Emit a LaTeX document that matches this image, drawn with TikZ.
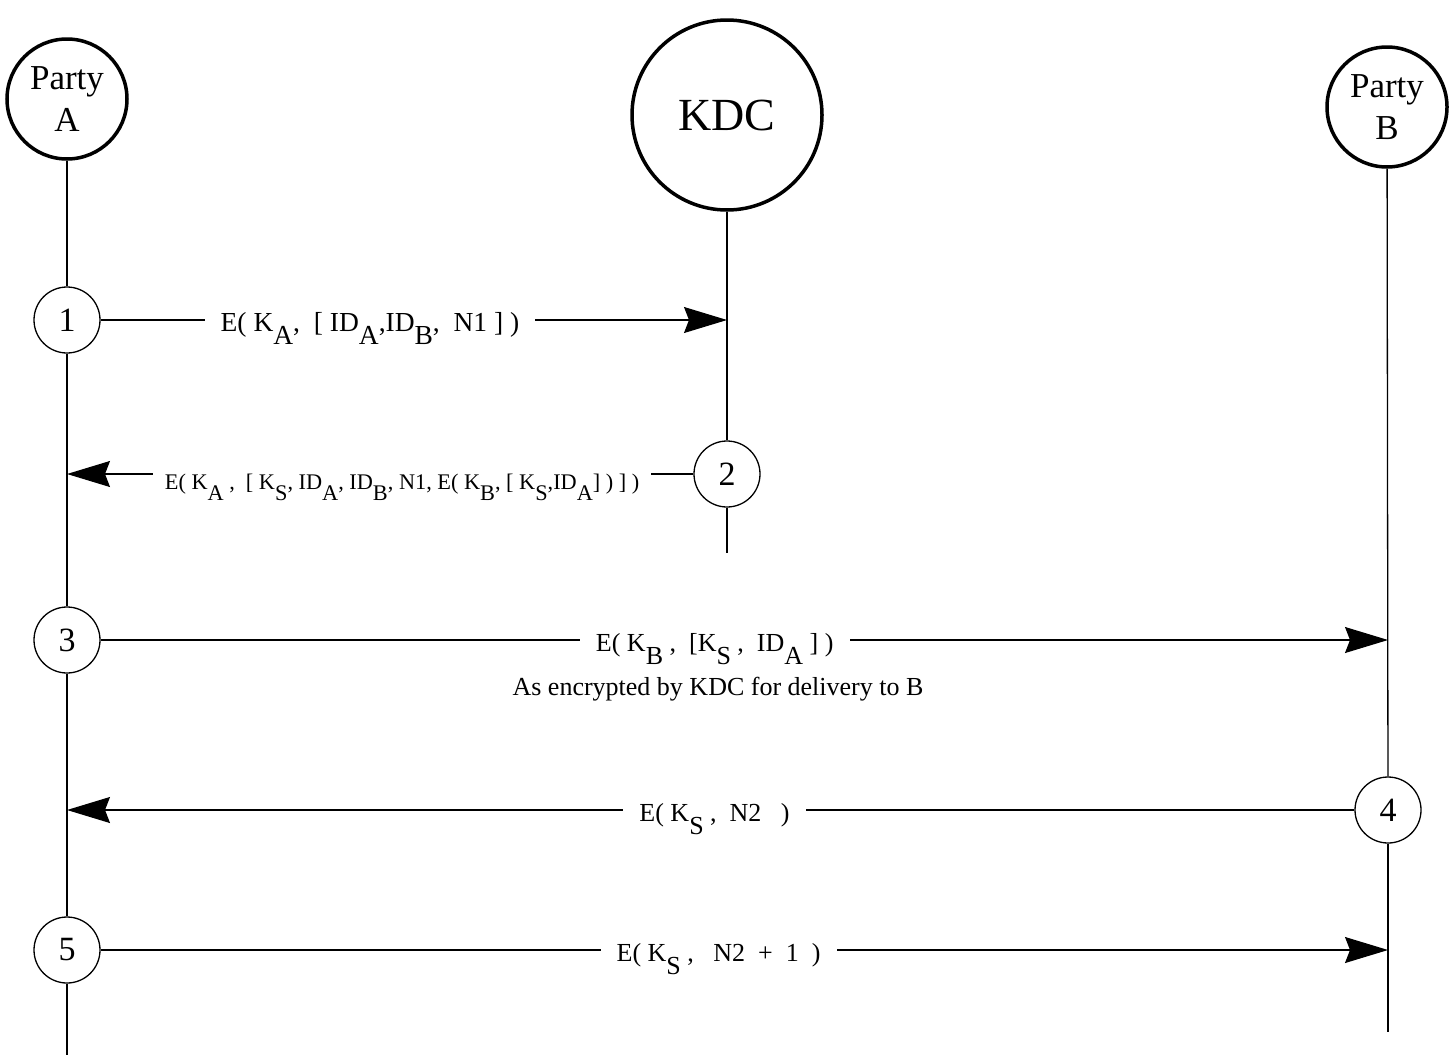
\documentclass[tikz,border=0pt]{standalone}
\usepackage{fontspec}
\setmainfont{Liberation Serif}
\usetikzlibrary{arrows.meta}
\newcommand\sbx[1]{\raisebox{-0.5em}{#1}}
\begin{document}
\begin{tikzpicture}[x=1pt,y=-1pt,
  party/.style={circle, draw, line width=3.5pt, minimum size=120pt, inner sep=0pt, align=center, font=\fontsize{35}{42}\selectfont},
  kdc/.style={circle, draw, line width=3.5pt, minimum size=190pt, inner sep=0pt, font=\fontsize{46}{46}\selectfont},
  stepc/.style={circle, draw, line width=1.3pt, minimum size=66pt, inner sep=0pt, font=\fontsize{34}{34}\selectfont},
  life/.style={line width=1.3pt},
  msg/.style={line width=1.2pt, -{Stealth[length=43pt,width=26pt,inset=5pt]}},
  lab/.style={fill=white, inner xsep=16pt, inner ysep=3pt, anchor=base, yshift=-11pt, font=\fontsize{26}{26}\selectfont},
  labs/.style={lab, font=\fontsize{22.3}{22.3}\selectfont, inner xsep=12pt, inner ysep=6pt, yshift=-4pt},
]
\useasboundingbox (0,0) rectangle (1450,1055);
% actors
\node[party] (A) at (67,99) {Party\\A};
\node[kdc] (K) at (727,115) {KDC};
\node[party] (B) at (1387,107) {Party\\B};
% step circles
\node[stepc] (c1) at (67,320) {1};
\node[stepc] (c2) at (727,474) {2};
\node[stepc] (c3) at (67,640) {3};
\node[stepc] (c4) at (1388,810) {4};
\node[stepc] (c5) at (67,950) {5};
% lifeline ends and message targets
\coordinate (Aend) at (67,1055);
\coordinate (Kend) at (727,553);
\coordinate (Bend) at (1388,1032);
\coordinate (k1) at (727,320);
\coordinate (a2) at (67,474);
\coordinate (b3) at (1388,640);
\coordinate (a4) at (67,810);
\coordinate (b5) at (1388,950);
% lifelines
\draw[life] (A) -- (c1);
\draw[life] (c1) -- (c3);
\draw[life] (c3) -- (c5);
\draw[life] (c5) -- (Aend);
\draw[life] (K) -- (c2);
\draw[life] (c2) -- (Kend);
\draw[life] (B) -- (c4);
\draw[life] (c4) -- (Bend);
% messages
\draw[msg] (c1) -- node[lab, pos=0.43, font=\fontsize{27.5}{27.5}\selectfont] (m1) {E( K\sbx{A},\ \ [ ID\sbx{A},ID\sbx{B},\ \ N1 ] )} (k1);
\draw[msg] (c2) -- node[labs, pos=0.465] (m2) {E( K\sbx{A} ,\ \ [ K\sbx{S}, ID\sbx{A}, ID\sbx{B}, N1,\ E( K\sbx{B}, [ K\sbx{S},ID\sbx{A}] ) ] )} (a2);
\draw[msg] (c3) -- node[lab, pos=0.477] (m3) {E( K\sbx{B} ,\ \ [K\sbx{S} ,\ \ ID\sbx{A} ] )} (b3);
\draw[msg] (c4) -- node[lab, pos=0.497] (m4) {E( K\sbx{S} ,\ \ N2\ \ \ )} (a4);
\draw[msg] (c5) -- node[lab, pos=0.48] (m5) {E( K\sbx{S} ,\ \ \ N2\ \ +\ \ 1\ \ )} (b5);
\node[anchor=base, font=\fontsize{26}{26}\selectfont] (note) at (718,695) {As encrypted by KDC for delivery to B};
\end{tikzpicture}
\end{document}
